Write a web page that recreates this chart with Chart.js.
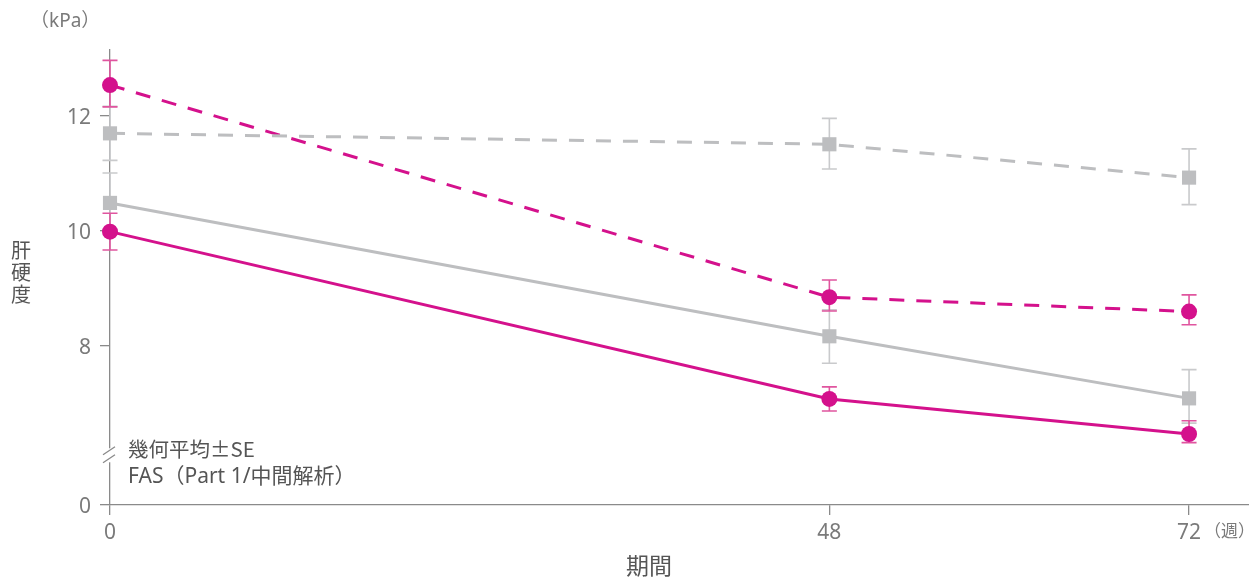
<!DOCTYPE html>
<html lang="ja">
<head>
<meta charset="utf-8">
<title>肝硬度の推移</title>
<script src="https://cdn.jsdelivr.net/npm/chart.js@4/dist/chart.umd.min.js"></script>
<style>
  html, body { margin: 0; padding: 0; background: #fff; }
  #wrap { position: relative; width: 1249px; height: 578px; }
</style>
</head>
<body>
<div id="wrap"><canvas id="chart" width="1249" height="578"></canvas></div>
<script>
// Weeks on the x axis
const weeks = [0, 48, 72];
const xTickLabels = ['0', '48', '72'];

// Liver stiffness (kPa), geometric mean with lower / upper SE limits
const pinkDashed      = [12.54, 8.85, 8.60];
const pinkDashedLow   = [12.16, 8.61, 8.37];
const pinkDashedHigh  = [12.97, 9.15, 8.89];

const grayDashed      = [11.70, 11.51, 10.93];
const grayDashedLow   = [11.23, 11.08, 10.46];
const grayDashedHigh  = [12.17, 11.96, 11.43];

const graySolid       = [10.49, 8.17, 7.09];
const graySolidLow    = [9.97, 7.70, 6.66];
const graySolidHigh   = [11.01, 8.63, 7.59];

const pinkSolid       = [9.99, 7.08, 6.47];
const pinkSolidLow    = [9.67, 6.87, 6.32];
const pinkSolidHigh   = [10.31, 7.29, 6.70];

// y axis: ticks above the break, and the bottom value shown as "0"
const yTicks = [8, 10, 12];
const yAxisBottom = 5.235;
const yAxisTop = 13.15;
const yBreakValue = 6.1;

const PINK = '#d4118c';
const PINK_BAR = '#e0559f';
const GRAY = '#bdbec0';
const GRAY_BAR = '#c9cacc';
const AXIS = '#8a8a8a';
const TEXT = '#7a7a7a';
const FONT = "'Noto Sans', 'Noto Sans CJK JP', sans-serif";
const CJK_FONT = "'Noto Sans CJK JP', 'Noto Sans', sans-serif";

const toPoints = arr => arr.map((v, i) => ({ x: weeks[i], y: v }));

function lineSet(label, values, low, high, color, barColor, dashed, shape) {
  const r = shape === 'rect' ? 10 : 8;
  return {
    label,
    data: toPoints(values),
    low, high, barColor,
    borderColor: color,
    backgroundColor: color,
    borderWidth: 3,
    borderDash: dashed ? [15, 12] : [],
    pointStyle: shape,
    pointRadius: r,
    pointBorderWidth: 0,
    pointHoverRadius: r,
    tension: 0,
    clip: false
  };
}

// SE whiskers, drawn under the lines and markers
const errorBars = {
  id: 'errorBars',
  beforeDatasetsDraw(chart) {
    const { ctx, scales: { x, y } } = chart;
    ctx.save();
    chart.data.datasets.forEach(ds => {
      ctx.strokeStyle = ds.barColor;
      ctx.lineWidth = 1.6;
      ds.data.forEach((p, i) => {
        const px = x.getPixelForValue(p.x);
        const yl = y.getPixelForValue(ds.low[i]);
        const yh = y.getPixelForValue(ds.high[i]);
        ctx.beginPath();
        ctx.moveTo(px, yl); ctx.lineTo(px, yh);
        ctx.moveTo(px - 7.5, yl); ctx.lineTo(px + 7.5, yl);
        ctx.moveTo(px - 7.5, yh); ctx.lineTo(px + 7.5, yh);
        ctx.stroke();
      });
    });
    ctx.restore();
  }
};

// Axis break mark and free text labels
const decorations = {
  id: 'decorations',
  afterDraw(chart) {
    const { ctx, scales: { y }, chartArea } = chart;
    const ax = chartArea.left;
    const by = y.getPixelForValue(yBreakValue);
    ctx.save();
    // gap in the y axis
    ctx.fillStyle = '#fff';
    ctx.fillRect(ax - 3, by - 7, 6, 14);
    ctx.strokeStyle = AXIS;
    ctx.lineWidth = 1.3;
    ctx.beginPath();
    ctx.moveTo(ax - 7, by - 0.5); ctx.lineTo(ax + 5, by - 8.5);
    ctx.moveTo(ax - 7, by + 7.5); ctx.lineTo(ax + 5, by - 0.5);
    ctx.stroke();

    ctx.fillStyle = TEXT;
    ctx.textBaseline = 'middle';
    // unit
    ctx.font = `19px ${FONT}`;
    ctx.textAlign = 'left';
    ctx.fillText('（kPa）', 30, 22);
    // vertical y-axis title
    ctx.fillStyle = '#555';
    ctx.font = `20px ${FONT}`;
    ctx.textAlign = 'center';
    ['肝', '硬', '度'].forEach((ch, i) => ctx.fillText(ch, 21, 252 + i * 22));
    // x-axis title
    ctx.font = `23px ${FONT}`;
    ctx.fillText('期間', 649, 567);
    // week unit beside the last tick
    ctx.fillStyle = TEXT;
    ctx.font = `17px ${FONT}`;
    ctx.textAlign = 'left';
    ctx.fillText('（週）', 1204, 532);
    // notes
    ctx.fillStyle = '#555';
    ctx.font = `20.5px ${CJK_FONT}`;
    ctx.fillText('幾何平均±SE', 128, 449);
    ctx.font = `21px ${FONT}`;
    ctx.fillText('FAS（Part 1/中間解析）', 128, 477);
    ctx.restore();
  }
};

new Chart(document.getElementById('chart'), {
  type: 'line',
  data: {
    datasets: [
      lineSet('graySolid', graySolid, graySolidLow, graySolidHigh, GRAY, GRAY_BAR, false, 'rect'),
      lineSet('grayDashed', grayDashed, grayDashedLow, grayDashedHigh, GRAY, GRAY_BAR, true, 'rect'),
      lineSet('pinkSolid', pinkSolid, pinkSolidLow, pinkSolidHigh, PINK, PINK_BAR, false, 'circle'),
      lineSet('pinkDashed', pinkDashed, pinkDashedLow, pinkDashedHigh, PINK, PINK_BAR, true, 'circle')
    ]
  },
  options: {
    responsive: false,
    animation: false,
    layout: { autoPadding: false, padding: { top: 50, right: 0, bottom: 0, left: 0 } },
    plugins: { legend: { display: false }, tooltip: { enabled: false } },
    scales: {
      x: {
        type: 'linear',
        min: 0,
        max: 76,
        afterBuildTicks(scale) { scale.ticks = weeks.map(v => ({ value: v })); },
        afterFit(scale) {
          scale.height = 73;
          scale.paddingLeft = 0;
          scale.paddingRight = 0;
        },
        ticks: {
          callback: (v) => xTickLabels[weeks.indexOf(v)],
          color: TEXT,
          font: { family: FONT, size: 21 },
          padding: 5,
          maxRotation: 0
        },
        grid: { drawOnChartArea: false, drawTicks: true, tickLength: 10, color: AXIS, lineWidth: 1.3 },
        border: { color: AXIS, width: 1.3 }
      },
      y: {
        type: 'linear',
        min: yAxisBottom,
        max: yAxisTop,
        afterBuildTicks(scale) {
          scale.ticks = [{ value: yAxisBottom }].concat(yTicks.map(v => ({ value: v })));
        },
        afterFit(scale) {
          scale.width = 110;
          scale.paddingTop = 0;
          scale.paddingBottom = 0;
        },
        ticks: {
          callback: (v) => (v === yAxisBottom ? '0' : String(v)),
          color: TEXT,
          font: { family: FONT, size: 21 },
          padding: 9,
          labelOffset: 2
        },
        grid: { drawOnChartArea: false, drawTicks: true, tickLength: 10, color: AXIS, lineWidth: 1.3 },
        border: { color: AXIS, width: 1.3 }
      }
    }
  },
  plugins: [errorBars, decorations]
});
</script>
</body>
</html>
